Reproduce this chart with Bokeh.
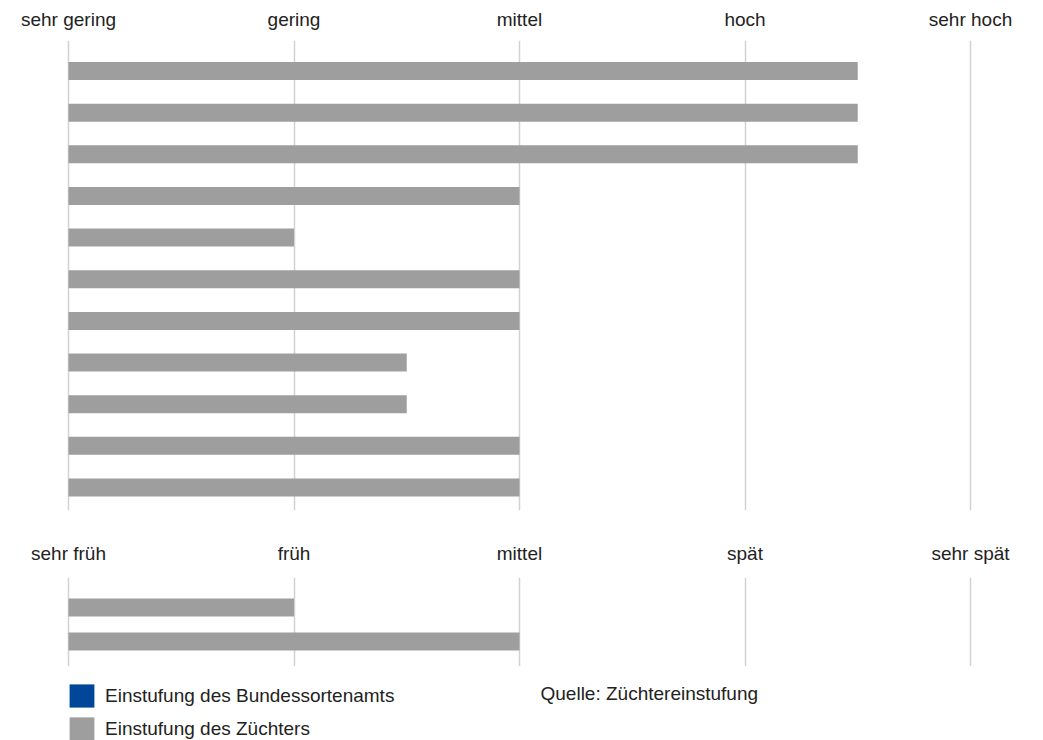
import math
from bokeh.plotting import figure
from bokeh.models import Range1d, FixedTicker, LinearAxis, Legend, LegendItem, Label, ColumnDataSource
from bokeh.layouts import column
from bokeh.embed import file_html
from bokeh.resources import INLINE

# ---- data ----
scale_ticks = [1, 3, 5, 7, 9]
top_tick_labels = ["sehr gering", "gering", "mittel", "hoch", "sehr hoch"]
bottom_tick_labels = ["sehr früh", "früh", "mittel", "spät", "sehr spät"]

top_traits = ["Merkmal 1", "Merkmal 2", "Merkmal 3", "Merkmal 4", "Merkmal 5", "Merkmal 6",
              "Merkmal 7", "Merkmal 8", "Merkmal 9", "Merkmal 10", "Merkmal 11"]
top_breeder = [8, 8, 8, 5, 3, 5, 5, 4, 4, 5, 5]

bottom_traits = ["Reife 1", "Reife 2"]
bottom_breeder = [3, 5]

# Bundessortenamt: no ratings available (no blue bars shown)
bsa_values = [math.nan]

legend_labels = ["Einstufung des Bundessortenamts", "Einstufung des Züchters"]
source_text = "Quelle: Züchtereinstufung"

# ---- styles ----
FONT = "Liberation Sans"
FS = "19px"
TXT = "#222222"
GRAY = "#9d9e9d"
BLUE = "#00479a"
GRID = "#d2d2d2"
W = 1035
UNIT = 112.75
LEFT_PX = 68
X0 = 1 - LEFT_PX / UNIT
X1 = 1 + (W - LEFT_PX) / UNIT


def make_panel(height, border_top, border_bottom, y_start, y_end, labels, values, bar_h, standoff):
    p = figure(width=W, height=height, output_backend="svg", toolbar_location=None,
               x_range=Range1d(X0, X1), y_range=Range1d(y_start, y_end),
               x_axis_location=None, y_axis_location=None,
               min_border_left=0, min_border_right=0,
               min_border_top=border_top, min_border_bottom=border_bottom)
    p.outline_line_color = None
    p.background_fill_color = "white"
    p.border_fill_color = "white"
    p.ygrid.visible = False
    p.xgrid.ticker = FixedTicker(ticks=scale_ticks)
    p.xgrid.grid_line_color = GRID
    p.xgrid.grid_line_width = 1.5
    ax = LinearAxis(ticker=FixedTicker(ticks=scale_ticks),
                    major_label_overrides={t: l for t, l in zip(scale_ticks, labels)})
    ax.axis_line_color = None
    ax.major_tick_line_color = None
    ax.minor_tick_line_color = None
    ax.major_tick_out = 0
    ax.major_tick_in = 0
    ax.major_label_standoff = standoff
    ax.major_label_text_font = FONT
    ax.major_label_text_font_size = FS
    ax.major_label_text_color = TXT
    p.add_layout(ax, "above")
    ys = list(range(len(values)))
    src = ColumnDataSource(dict(y=ys, right=values, left=[1] * len(values)))
    p.hbar(y="y", left="left", right="right", height=bar_h, source=src,
           fill_color=GRAY, line_color=None)
    return p


top = make_panel(537, 40, 27, 10.552, -0.732, top_tick_labels, top_breeder, 0.432, 11)
bottom = make_panel(129, 40, 0, 1.735, -0.882, bottom_tick_labels, bottom_breeder, 0.53, 14)

leg = figure(width=W, height=74, output_backend="svg", toolbar_location=None,
             x_range=Range1d(0, 1), y_range=Range1d(0, 1),
             x_axis_location=None, y_axis_location=None,
             min_border_left=0, min_border_right=0, min_border_top=0, min_border_bottom=0)
leg.outline_line_color = None
leg.xgrid.visible = False
leg.ygrid.visible = False
r_bsa = leg.hbar(y=bsa_values, left=bsa_values, right=bsa_values, height=0.5,
                 fill_color=BLUE, line_color=None)
r_brd = leg.hbar(y=bsa_values, left=bsa_values, right=bsa_values, height=0.5,
                 fill_color=GRAY, line_color=None)
legend = Legend(items=[LegendItem(label=legend_labels[0], renderers=[r_bsa]),
                       LegendItem(label=legend_labels[1], renderers=[r_brd])],
                location=(66, -3), orientation="vertical",
                glyph_width=31, glyph_height=29, label_height=29, label_standoff=8,
                spacing=4, padding=0, margin=0,
                label_text_font=FONT, label_text_font_size=FS, label_text_color=TXT,
                border_line_color=None, background_fill_alpha=0)
leg.add_layout(legend)
leg.add_layout(Label(x=540, y=47, x_units="screen", y_units="screen", text=source_text,
                     text_font=FONT, text_font_size=FS, text_color=TXT,
                     text_baseline="middle"))

layout = column(top, bottom, leg, spacing=0)
open("out.html", "w").write(file_html(layout, INLINE))
